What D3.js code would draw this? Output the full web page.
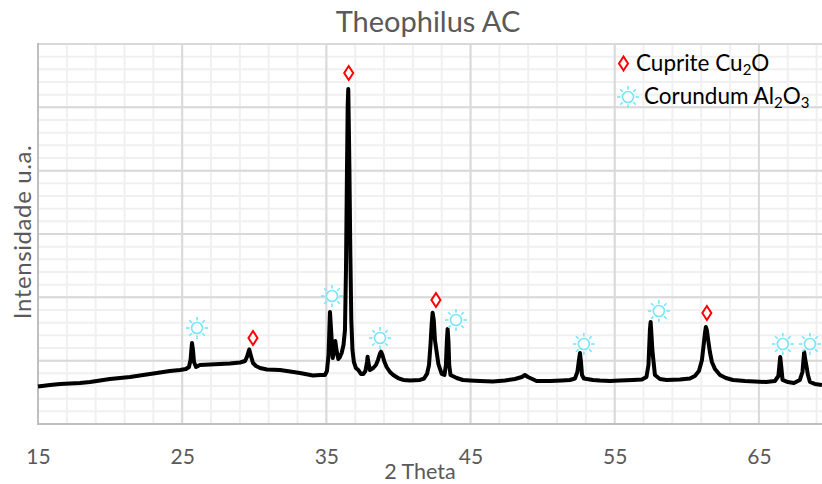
<!DOCTYPE html>
<html>
<head>
<meta charset="utf-8">
<script src="https://cdn.jsdelivr.net/npm/d3@7"></script>
<style>
  html, body { margin: 0; padding: 0; background: #fff; }
  svg { display: block; }
  text { font-family: Lato, "Open Sans", sans-serif; }
</style>
</head>
<body>
<svg id="chart" width="822" height="484"></svg>
<script>
// X-ray diffraction pattern, sample "Theophilus AC"
const twoTheta = [
  15.00, 15.83, 16.53, 17.22, 17.91, 18.61, 19.30, 19.99, 20.69, 21.38,
  22.07, 22.77, 23.46, 24.15, 24.85, 25.26, 25.47, 25.58, 25.68, 25.75,
  25.82, 25.96, 26.23, 26.93, 27.62, 28.31, 29.01, 29.36, 29.49, 29.65,
  29.77, 29.91, 30.12, 30.40, 30.88, 31.78, 32.48, 33.17, 34.07, 34.56,
  34.90, 35.04, 35.15, 35.25, 35.35, 35.44, 35.53, 35.62, 35.70, 35.83,
  35.94, 36.06, 36.19, 36.29, 36.36, 36.43, 36.48, 36.52, 36.55, 36.60,
  36.66, 36.73, 36.81, 36.91, 37.05, 37.21, 37.40, 37.56, 37.71, 37.82,
  37.86, 37.92, 38.02, 38.25, 38.44, 38.58, 38.72, 38.79, 38.89, 39.03,
  39.18, 39.41, 39.64, 39.97, 40.33, 40.80, 41.49, 41.77, 41.98, 42.12,
  42.22, 42.30, 42.37, 42.45, 42.53, 42.65, 42.77, 43.00, 43.19, 43.29,
  43.36, 43.41, 43.47, 43.52, 43.61, 44.04, 44.47, 44.96, 45.65, 46.55,
  47.39, 48.08, 48.56, 48.77, 48.98, 49.58, 50.51, 51.34, 51.89, 52.24,
  52.41, 52.52, 52.59, 52.66, 52.73, 52.86, 53.49, 53.97, 54.67, 55.36,
  56.26, 56.89, 57.20, 57.34, 57.44, 57.49, 57.55, 57.61, 57.68, 57.79,
  58.13, 58.60, 59.52, 60.21, 60.56, 60.84, 61.05, 61.19, 61.26, 61.32,
  61.39, 61.48, 61.60, 61.74, 61.95, 62.30, 62.71, 63.20, 64.03, 64.72,
  65.49, 66.11, 66.35, 66.48, 66.56, 66.64, 67.01, 67.43, 67.84, 68.02,
  68.14, 68.22, 68.31, 68.40, 68.54, 68.88, 69.37
];
const intensity = [
   592,  616,  632,  639,  647,  663,  687,  711,  726,  742,
   766,  790,  813,  837,  853,  868,  900, 1011, 1279, 1168,
   979,  900,  932,  940,  947,  955,  971,  995, 1058, 1176,
  1074,  963,  916,  884,  861,  853,  829,  805,  766,  774,
   774,  837, 1090, 1768, 1405, 1042, 1137, 1311, 1168, 1026,
  1058, 1121, 1247, 1484, 2432, 4011, 5037, 5290, 4832, 4011,
  2747, 1642, 1168,  979,  884,  853,  790,  790,  837,  979,
  1063,  963,  853,  884,  932, 1011, 1113, 1142, 1090,  979,
   900,  821,  774,  726,  695,  687,  695,  718,  790,  932,
  1247, 1563, 1757, 1642, 1326, 1137,  947,  790,  774,  932,
  1326, 1500, 1295,  932,  774,  726,  695,  687,  679,  671,
   687,  711,  742,  774,  742,  679,  679,  687,  695,  718,
   821, 1011, 1121,  979,  774,  718,  695,  687,  679,  687,
   695,  703,  742,  932, 1484, 1611, 1405, 1168, 1011,  774,
   711,  695,  703,  718,  758,  837, 1011, 1295, 1437, 1532,
  1484, 1326, 1137,  979,  868,  774,  726,  695,  679,  671,
   663,  679,  758, 1058,  884,  695,  663,  647,  695,  821,
  1137, 1011,  900,  774,  663,  632,  616
];

// Phase identification markers (peak position, marker height)
const cupriteTheta = [29.91, 36.55, 42.60, 61.39];
const cupriteLevel = [1358, 5542, 1958, 1753];
const corundumTheta = [26.03, 35.39, 38.72, 43.99, 52.86, 58.06, 66.66, 68.54];
const corundumLevel = [1516, 2021, 1358, 1642, 1263, 1784, 1263, 1263];

const xTicks = [15, 25, 35, 45, 55, 65];
const title = "Theophilus AC";
const xTitle = "2 Theta";
const yTitle = "Intensidade u.a.";

const svg = d3.select("#chart");
const plotLeft = 38, plotRight = 831, plotTop = 44, plotBottom = 424;

const x = d3.scaleLinear().domain([15, 70]).range([plotLeft, plotRight]);
const y = d3.scaleLinear().domain([0, 6000]).range([plotBottom, plotTop]);

const grid = svg.append("g");
// minor grid
grid.selectAll("line.vmin").data(d3.range(17, 70, 2)).join("line")
  .attr("x1", d => x(d)).attr("x2", d => x(d)).attr("y1", plotTop).attr("y2", plotBottom)
  .attr("stroke", "#f0f0f0").attr("stroke-width", 2);
grid.selectAll("line.hmin").data(d3.range(200, 6000, 200)).join("line")
  .attr("x1", plotLeft).attr("x2", plotRight).attr("y1", d => y(d)).attr("y2", d => y(d))
  .attr("stroke", "#f0f0f0").attr("stroke-width", 2);
// major grid
grid.selectAll("line.vmaj").data(d3.range(25, 70, 10)).join("line")
  .attr("x1", d => x(d)).attr("x2", d => x(d)).attr("y1", plotTop).attr("y2", plotBottom)
  .attr("stroke", "#d9d9d9").attr("stroke-width", 2);
grid.selectAll("line.hmaj").data(d3.range(1000, 6001, 1000)).join("line")
  .attr("x1", plotLeft).attr("x2", plotRight).attr("y1", d => y(d)).attr("y2", d => y(d))
  .attr("stroke", "#d9d9d9").attr("stroke-width", 2);
// frame: left and bottom
svg.append("line").attr("x1", plotLeft).attr("x2", plotLeft).attr("y1", plotTop - 1).attr("y2", plotBottom + 1)
  .attr("stroke", "#bfbfbf").attr("stroke-width", 2);
svg.append("line").attr("x1", plotLeft).attr("x2", plotRight).attr("y1", plotBottom).attr("y2", plotBottom)
  .attr("stroke", "#bfbfbf").attr("stroke-width", 2);

// x axis labels
const xAxis = d3.axisBottom(x).tickValues(xTicks).tickSize(0).tickPadding(25).tickFormat(d3.format("d"));
const gx = svg.append("g").attr("transform", `translate(0,${plotBottom})`).call(xAxis);
gx.select(".domain").remove();
gx.selectAll("text").attr("fill", "#595959").attr("font-size", 21)
  .attr("font-family", "Lato, sans-serif");

// diffraction trace
const pts = twoTheta.map((t, i) => [t, intensity[i]]);
const line = d3.line().x(d => x(d[0])).y(d => y(d[1]));
svg.append("path").datum(pts).attr("d", line)
  .attr("fill", "none").attr("stroke", "#000").attr("stroke-width", 4)
  .attr("stroke-linejoin", "round");

// marker symbols
function diamond(g, cx, cy) {
  g.append("path")
    .attr("d", `M${cx},${cy - 7} L${cx + 4.5},${cy} L${cx},${cy + 7} L${cx - 4.5},${cy} Z`)
    .attr("fill", "#fff").attr("stroke", "#ff0000").attr("stroke-width", 2);
}
function sun(g, cx, cy) {
  const s = g.append("g").attr("transform", `translate(${cx},${cy})`)
    .attr("stroke", "#76e6f8").attr("fill", "none").attr("stroke-width", 1.6);
  s.append("circle").attr("r", 5.5).attr("fill", "#fff");
  d3.range(8).forEach(k => {
    const a = k * Math.PI / 4;
    s.append("line")
      .attr("x1", 7.5 * Math.cos(a)).attr("y1", 7.5 * Math.sin(a))
      .attr("x2", 11 * Math.cos(a)).attr("y2", 11 * Math.sin(a));
  });
}
const marks = svg.append("g");
cupriteTheta.forEach((t, i) => diamond(marks, x(t), y(cupriteLevel[i])));
corundumTheta.forEach((t, i) => sun(marks, x(t), y(corundumLevel[i])));

// title and axis titles
svg.append("text").attr("x", 428).attr("y", 32).attr("text-anchor", "middle")
  .attr("fill", "#595959").attr("font-size", 29).text(title);
svg.append("text").attr("x", 420).attr("y", 479).attr("text-anchor", "middle")
  .attr("fill", "#595959").attr("font-size", 21.5).text(xTitle);
svg.append("text").attr("transform", "translate(31,232) rotate(-90)").attr("text-anchor", "middle")
  .attr("fill", "#595959").attr("font-size", 24).attr("letter-spacing", 0.6).text(yTitle);

// legend
const lg = svg.append("g");
diamond(lg, 623.5, 63.5);
const t1 = lg.append("text").attr("x", 636).attr("y", 71).attr("font-size", 22.5).attr("fill", "#000");
t1.append("tspan").text("Cuprite Cu");
t1.append("tspan").attr("font-size", 15).attr("dy", 4).text("2");
t1.append("tspan").attr("dy", -4).text("O");
sun(lg, 628, 97);
const t2 = lg.append("text").attr("x", 644).attr("y", 104).attr("font-size", 22.5).attr("fill", "#000");
t2.append("tspan").text("Corundum Al");
t2.append("tspan").attr("font-size", 15).attr("dy", 4).text("2");
t2.append("tspan").attr("dy", -4).text("O");
t2.append("tspan").attr("font-size", 15).attr("dy", 4).text("3");
</script>
</body>
</html>
